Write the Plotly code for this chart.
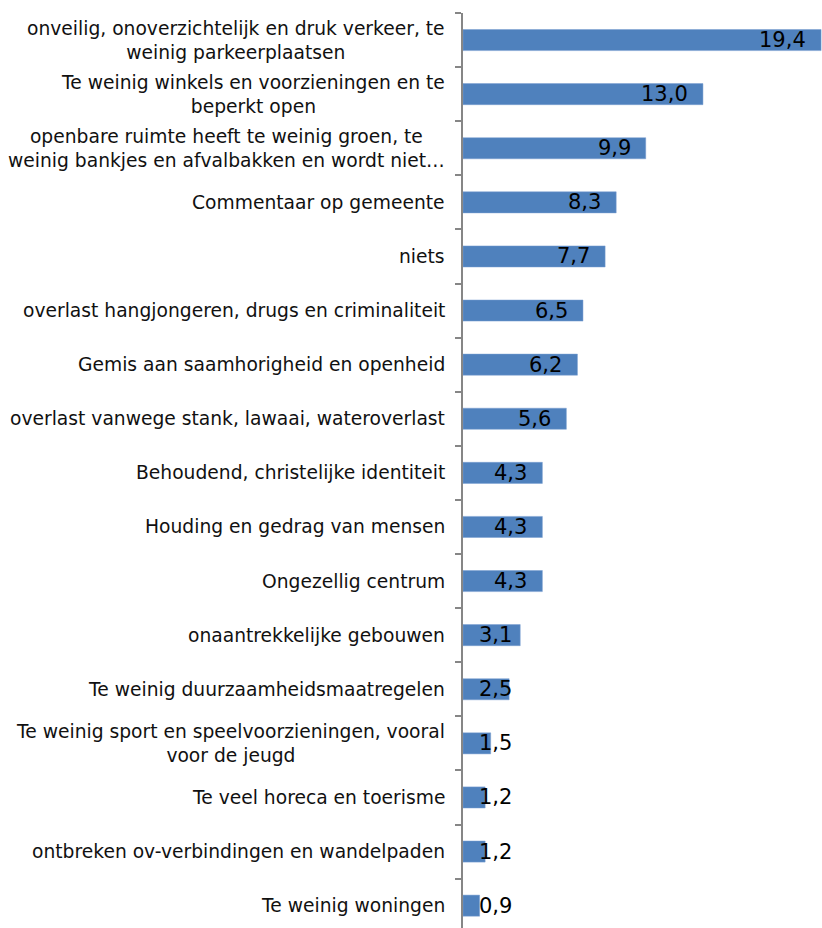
import plotly.graph_objects as go

categories = [
    "onveilig, onoverzichtelijk en druk verkeer, te<br>weinig parkeerplaatsen",
    "Te weinig winkels en voorzieningen en te<br>beperkt open",
    "openbare ruimte heeft te weinig groen, te<br>weinig bankjes en afvalbakken en wordt niet…",
    "Commentaar op gemeente",
    "niets",
    "overlast hangjongeren, drugs en criminaliteit",
    "Gemis aan saamhorigheid en openheid",
    "overlast vanwege stank, lawaai, wateroverlast",
    "Behoudend, christelijke identiteit",
    "Houding en gedrag van mensen",
    "Ongezellig centrum",
    "onaantrekkelijke gebouwen",
    "Te weinig duurzaamheidsmaatregelen",
    "Te weinig sport en speelvoorzieningen, vooral<br>voor de jeugd",
    "Te veel horeca en toerisme",
    "ontbreken ov-verbindingen en wandelpaden",
    "Te weinig woningen",
]
values = [19.4, 13.0, 9.9, 8.3, 7.7, 6.5, 6.2, 5.6, 4.3, 4.3, 4.3, 3.1, 2.5, 1.5, 1.2, 1.2, 0.9]
value_labels = [f"{v:.1f}".replace(".", ",") for v in values]

W, H = 822, 928
ML, MR, MT, MB = 463, 0, 13, 0
XMAX = 19.45
px_per_unit = (W - ML - MR) / XMAX
ROW_PX = 54.1
n = len(categories)
y_top = n - 0.5
y_bottom = y_top - (H - MT - MB) / ROW_PX

fig = go.Figure()
fig.add_trace(go.Bar(
    x=values, y=categories, orientation="h",
    marker=dict(color="#4F81BD", line=dict(color="#7A9FD0", width=0.5)),
    width=0.39, hoverinfo="skip",
))

annotations = []
font_cat = dict(family="DejaVu Sans, Verdana, sans-serif", size=18.7, color="#111111")
font_lab = dict(family="DejaVu Sans, Verdana, sans-serif", size=21, color="#000000")
for cat, v, lab in zip(categories, values, value_labels):
    annotations.append(dict(
        x=0, xref="paper", y=cat, yref="y", text=cat, showarrow=False,
        xanchor="right", yanchor="middle", align="center", xshift=-16, font=font_cat,
    ))
    text_w = len(lab) * 12
    bar_px = v * px_per_unit
    if bar_px - 15 - text_w >= 17:
        annotations.append(dict(
            x=v, xref="x", y=cat, yref="y", text=lab, showarrow=False,
            xanchor="right", yanchor="middle", xshift=-13, font=font_lab,
        ))
    else:
        annotations.append(dict(
            x=0, xref="x", y=cat, yref="y", text=lab, showarrow=False,
            xanchor="left", yanchor="middle", xshift=14, font=font_lab,
        ))

fig.update_layout(
    width=W, height=H,
    margin=dict(l=ML, r=MR, t=MT, b=MB, pad=0),
    paper_bgcolor="white", plot_bgcolor="white",
    showlegend=False,
    bargap=0.61,
    annotations=annotations,
    xaxis=dict(range=[0, XMAX], visible=False, fixedrange=True),
    yaxis=dict(
        categoryorder="array", categoryarray=categories[::-1],
        range=[y_bottom, y_top],
        showticklabels=False, showgrid=False, zeroline=False,
        showline=True, linecolor="#868686", linewidth=1.5,
        ticks="outside", ticklen=6, tickcolor="#868686", tickwidth=1.5,
        tickson="boundaries", mirror=False, fixedrange=True,
    ),
)

fig.write_html(
    "out.html",
    config={"displayModeBar": False},
    post_script="document.body.style.margin='0';document.body.style.overflow='hidden';",
)
